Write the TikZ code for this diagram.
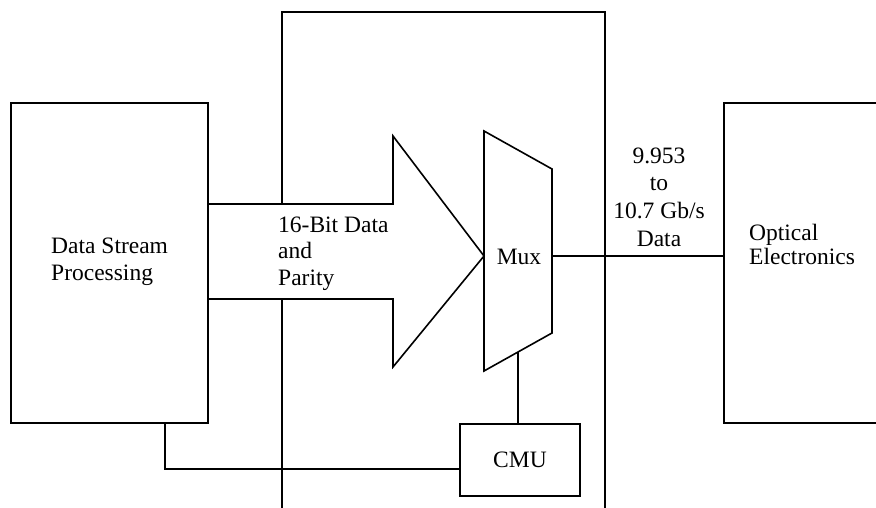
\documentclass[tikz,border=0pt]{standalone}
\usepackage{fontspec}
\setmainfont{Liberation Serif}
\usetikzlibrary{positioning}

\tikzset{
  wire/.style={line width=1.6pt},
  blockbox/.style={draw,line width=1.6pt,rectangle,inner sep=0pt},
  lbl/.style={inner sep=0pt,font=\fontsize{23.5}{26.5}\selectfont}
}

\begin{document}
\begin{tikzpicture}[x=1pt,y=-1pt]

\useasboundingbox (0,0) rectangle (876,508);

% ============================
% LEFT BLOCK
% ============================
\node[blockbox,minimum width=197pt,minimum height=320pt] (dsp) at (109.5,263) {};
\node[lbl,align=left,anchor=base west] (dsplbl) at (51,280) {Data Stream\\Processing};

% ============================
% CHIP OUTLINE
% ============================
\draw[wire] (282,204) -- (282,12) -- (605,12) -- (605,508);
\draw[wire] (282,299) -- (282,508);

% Wide data arrow
\draw[wire,line join=miter]
  (207,204) -- (393,204) -- (393,136) -- (484,256)
  -- (393,367) -- (393,299) -- (207,299);
\node[lbl,align=left,anchor=base west] (buslbl) at (278,285) {16-Bit Data\\and\\Parity};

% Mux (trapezoid)
\coordinate (muxa) at (484,131);
\coordinate (muxb) at (552,169);
\coordinate (muxc) at (552,333);
\coordinate (muxd) at (484,371);
\draw[wire] (muxa) -- (muxb) -- (muxc) -- (muxd) -- cycle;
\node[lbl] (mux) at (519,257) {Mux};
\coordinate (muxout) at (552,256);
\coordinate (muxclk) at (518,352);

% CMU
\node[blockbox,minimum width=120pt,minimum height=72pt] (cmu) at (520,460) {};
\node[lbl] (cmulbl) at (cmu) {CMU};

% ============================
% RIGHT BLOCK
% ============================
\draw[wire] (876,103) -- (724,103) -- (724,423) -- (876,423);
\coordinate (optin) at (724,256);
\node[lbl,align=left,anchor=base west,font=\fontsize{23.5}{23.3}\selectfont] (optlbl) at (749,264) {Optical\\Electronics};

% Connections
\draw[wire] (muxout) -- (optin);
\node[lbl,align=center,anchor=base,font=\fontsize{23.5}{27.6}\selectfont] (ratelbl) at (659,246) {9.953\\to\\10.7 Gb/s\\Data};
\draw[wire] (muxclk) -- (muxclk |- cmu.north);
\coordinate (tap) at (165,423);
\draw[wire] (tap) |- ([yshift=-9pt]cmu.west);

\end{tikzpicture}
\end{document}
